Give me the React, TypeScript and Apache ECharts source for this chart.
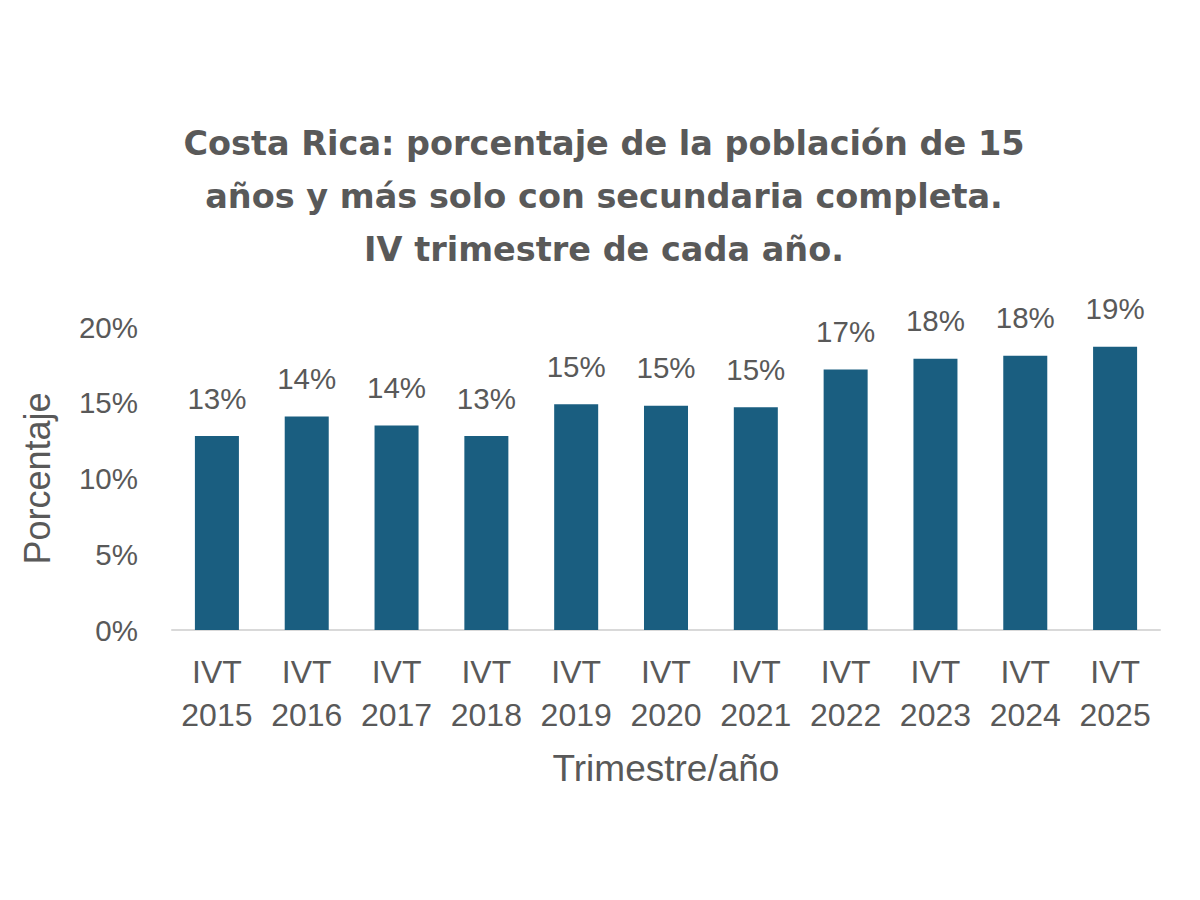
import React, { useEffect, useRef } from "react";
import * as echarts from "echarts";

const categories = ["IVT\n2015", "IVT\n2016", "IVT\n2017", "IVT\n2018", "IVT\n2019", "IVT\n2020", "IVT\n2021", "IVT\n2022", "IVT\n2023", "IVT\n2024", "IVT\n2025"];
const values = [12.8, 14.1, 13.5, 12.8, 14.9, 14.8, 14.7, 17.2, 17.9, 18.1, 18.7];
const titleText = "Costa Rica: porcentaje de la población de 15\naños y más solo con secundaria completa.\nIV trimestre de cada año.";
const yAxisName = "Porcentaje";
const xAxisName = "Trimestre/año";

const GREY = "#595959";
const FONT = "'Liberation Sans', Arial, sans-serif";

export default function App() {
  const ref = useRef<HTMLDivElement>(null);
  useEffect(() => {
    document.body.style.margin = "0";
    const chart = echarts.init(ref.current!, null, { renderer: "svg" });
    chart.setOption({
      animation: false,
      backgroundColor: "#ffffff",
      textStyle: { fontFamily: FONT },
      title: {
        text: titleText,
        left: 599,
        top: 112,
        textAlign: "center",
        textStyle: {
          fontSize: 33.5,
          fontWeight: "bold",
          color: GREY,
          lineHeight: 53,
          fontFamily: "'DejaVu Sans', sans-serif",
        },
      },
      grid: { left: 172, right: 40, top: 327, bottom: 270, containLabel: false },
      xAxis: {
        type: "category",
        data: categories,
        name: xAxisName,
        nameLocation: "middle",
        nameGap: 120,
        nameTextStyle: { fontSize: 37, color: GREY, fontFamily: FONT },
        axisLine: { show: true, lineStyle: { color: "#d9d9d9", width: 2 } },
        axisTick: { show: false },
        axisLabel: { interval: 0, color: GREY, fontSize: 32, lineHeight: 43, margin: 20, fontFamily: FONT },
      },
      yAxis: {
        type: "value",
        min: 0,
        max: 20,
        interval: 5,
        name: yAxisName,
        nameLocation: "middle",
        nameRotate: 90,
        nameGap: 117,
        nameTextStyle: { fontSize: 36, color: GREY, fontFamily: FONT },
        axisLine: { show: false },
        axisTick: { show: false },
        splitLine: { show: false },
        axisLabel: { color: GREY, fontSize: 29.5, margin: 34, formatter: "{value}%", fontFamily: FONT },
      },
      series: [
        {
          type: "bar",
          data: values,
          barWidth: "49%",
          itemStyle: { color: "#1a5e80" },
          label: {
            show: true,
            position: "top",
            distance: 23,
            color: GREY,
            fontSize: 29.5,
            fontFamily: FONT,
            formatter: (p: any) => Math.round(p.value) + "%",
          },
        },
      ],
    });
    return () => chart.dispose();
  }, []);
  return <div ref={ref} style={{ width: 1200, height: 900 }} />;
}
